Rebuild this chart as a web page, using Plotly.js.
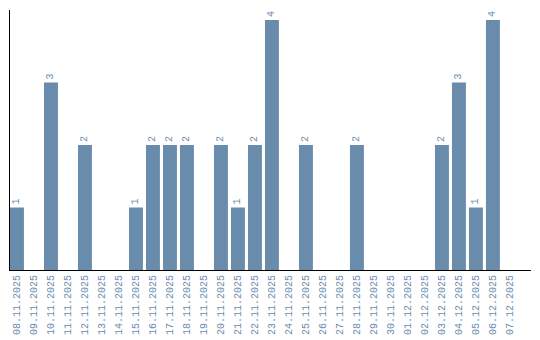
<!DOCTYPE html>
<html><head><meta charset="utf-8">
<script src="https://cdn.plot.ly/plotly-3.0.1.min.js"></script>
<style>html,body{margin:0;padding:0;background:#fff}#chart{width:540px;height:340px}</style>
</head><body><div id="chart"></div>
<script>
const dates = ["08.11.2025","09.11.2025","10.11.2025","11.11.2025","12.11.2025","13.11.2025","14.11.2025","15.11.2025","16.11.2025","17.11.2025","18.11.2025","19.11.2025","20.11.2025","21.11.2025","22.11.2025","23.11.2025","24.11.2025","25.11.2025","26.11.2025","27.11.2025","28.11.2025","29.11.2025","30.11.2025","01.12.2025","02.12.2025","03.12.2025","04.12.2025","05.12.2025","06.12.2025","07.12.2025"];
const counts = [1,0,3,0,2,0,0,1,2,2,2,0,2,1,2,4,0,2,0,0,2,0,0,0,0,2,3,1,4,0];
const labels = counts.map(v => v > 0 ? String(v) : "");
const barColor = "rgb(106,140,172)";
Plotly.newPlot("chart", [{
  type: "bar", x: dates, y: counts, text: labels,
  textposition: "outside", textangle: -90, cliponaxis: false,
  textfont: {family: "Liberation Mono", size: 10, color: barColor},
  marker: {color: barColor}, hoverinfo: "skip"
}], {
  width: 540, height: 340,
  margin: {l: 10, r: 9, t: 10, b: 70},
  paper_bgcolor: "#fff", plot_bgcolor: "#fff",
  bargap: 0.18, showlegend: false,
  xaxis: {type: "category", range: [-0.41, 30.24], showgrid: false, zeroline: false,
    showline: true, linecolor: "#000", linewidth: 1, ticks: "", tickangle: -90,
    tickfont: {family: "Liberation Mono", size: 10, color: barColor}},
  yaxis: {range: [0, 4.16], showgrid: false, zeroline: false, showline: true,
    linecolor: "#000", linewidth: 1, showticklabels: false, ticks: ""}
}, {displayModeBar: false, staticPlot: true});
</script></body></html>
